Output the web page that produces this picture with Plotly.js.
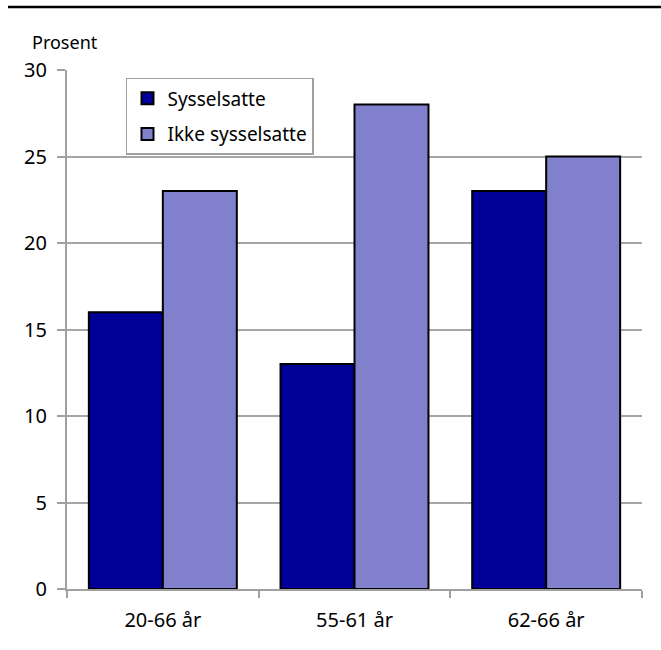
<!DOCTYPE html>
<html>
<head>
<meta charset="utf-8">
<script src="https://cdn.plot.ly/plotly-3.0.1.min.js"></script>
<style>html,body{margin:0;padding:0;background:#fff;}#chart{width:661px;height:650px;}</style>
</head>
<body>
<div id="chart"></div>
<script>
const categories = ["20-66 år", "55-61 år", "62-66 år"];
const sysselsatte = [16, 13, 23];
const ikkeSysselsatte = [23, 28, 25];
const seriesNames = ["Sysselsatte", "Ikke sysselsatte"];
const yTicks = [0, 5, 10, 15, 20, 25, 30];

const font = "'Noto Sans', 'Open Sans', sans-serif";
const traces = [
  {type: "bar", x: categories, y: sysselsatte, name: seriesNames[0], legendgroup: "a",
   marker: {color: "#000099", line: {color: "#000000", width: 2}}},
  {type: "bar", x: categories, y: ikkeSysselsatte, name: seriesNames[1], legendgroup: "b",
   marker: {color: "#8080cc", line: {color: "#000000", width: 2}}}
];
const layout = {
  width: 661, height: 650,
  margin: {l: 67, r: 19, t: 70, b: 61},
  paper_bgcolor: "#fff", plot_bgcolor: "#fff",
  font: {family: font, size: 18, color: "#000"},
  barmode: "group", bargap: 0.228, bargroupgap: 0,
  xaxis: {
    type: "category", showline: true, linecolor: "#a0a0a0", linewidth: 2,
    ticks: "outside", tickson: "boundaries", ticklen: 7, tickcolor: "#a0a0a0", tickwidth: 2,
    tickfont: {size: 20}, ticklabelstandoff: 12, showgrid: false, zeroline: false, fixedrange: true
  },
  yaxis: {
    range: [0, 30], tickvals: yTicks, ticktext: yTicks.map(String),
    showline: true, linecolor: "#a0a0a0", linewidth: 2,
    ticks: "outside", ticklen: 8, tickcolor: "#a0a0a0", tickwidth: 2,
    showgrid: true, gridcolor: "#a6a6a6", gridwidth: 2, zeroline: false,
    tickfont: {size: 20}, ticklabelstandoff: 6, fixedrange: true
  },
  showlegend: true,
  legend: {x: 0.1026, y: 0.9846, xanchor: "left", yanchor: "top",
    bordercolor: "#a0a0a0", borderwidth: 1.5, bgcolor: "#fff",
    font: {size: 19}, itemwidth: 30, traceorder: "grouped", tracegroupgap: 8},
  annotations: [{text: "Prosent", xref: "paper", yref: "paper", x: -0.0643, y: 1.054,
    xanchor: "left", yanchor: "middle", showarrow: false, font: {size: 18}}],
  shapes: [{type: "line", xref: "paper", yref: "paper", x0: -0.1026, x1: 1.033,
    y0: 1.1214, y1: 1.1214, line: {color: "#000", width: 2.5}}]
};
Plotly.newPlot("chart", traces, layout, {displayModeBar: false, staticPlot: true});
</script>
</body>
</html>
